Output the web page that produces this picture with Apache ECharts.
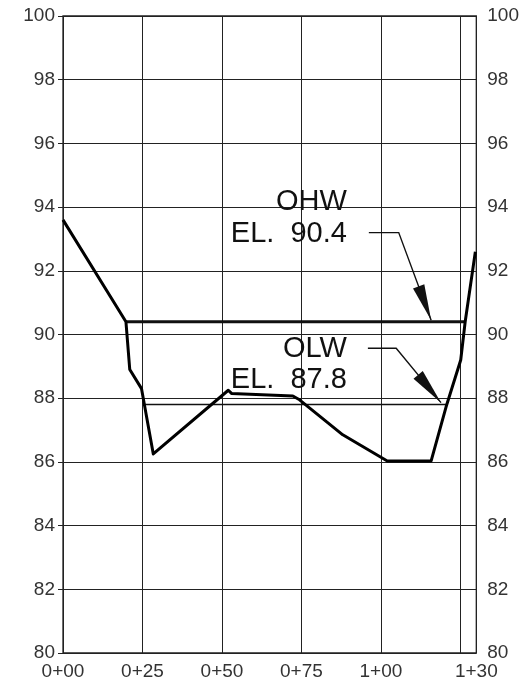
<!DOCTYPE html>
<html>
<head>
<meta charset="utf-8">
<title>Channel cross section</title>
<script src="https://cdn.jsdelivr.net/npm/echarts@6/dist/echarts.min.js"></script>
<style>
  html, body { margin: 0; padding: 0; background: #fff; }
  #chart { width: 522px; height: 683px; }
</style>
</head>
<body>
<div id="chart"></div>
<script>
// ground profile: station (ft) / elevation
var groundSta  = [0, 19.8, 21.0, 24.7, 28.4, 52.0, 53.0, 72.3, 74.4, 88.0, 102.0, 115.8, 120.5, 125.1, 126.5, 129.7];
var groundElev = [93.6, 90.4, 88.9, 88.3, 86.25, 88.25, 88.15, 88.07, 87.95, 86.85, 86.03, 86.03, 87.73, 89.2, 90.4, 92.6];

// water levels
var ohwSta = [19.8, 126.5];
var ohwElev = 90.4;
var olwSta = [25.4, 120.7];
var olwElev = 87.8;

// tick labels
var xTicks = [0, 25, 50, 75, 100, 125, 130];
var xTickLabels = ['0+00', '0+25', '0+50', '0+75', '1+00', '', '1+30'];

// callout texts
var noteText = ['OHW', 'EL.  90.4', 'OLW', 'EL.  87.8'];

function pairs(xs, ys) {
  return xs.map(function (x, i) { return [x, Array.isArray(ys) ? ys[i] : ys]; });
}

var ink = '#111';
var gridCol = '#222';
var labelFont = 'Liberation Sans';

var chart = echarts.init(document.getElementById('chart'));

// callout placement (data space)
var notePos = [[89.3, 94.17], [89.3, 93.15], [89.3, 89.54], [89.3, 88.57]];
var arrowPos = [
  [96.2, 93.2, 105.6, 93.2, 115.8, 90.45],
  [95.9, 89.57, 104.8, 89.57, 118.9, 87.86]
];

var yAxisBase = {
  type: 'value', min: 80, max: 100, interval: 2,
  axisLine: { show: false }
};

var option = {
  animation: false,
  backgroundColor: '#fff',
  grid: { left: 63, right: 45, top: 16, bottom: 30, show: true, borderColor: gridCol, borderWidth: 1.3 },
  xAxis: {
    type: 'value', min: 0, max: 130, interval: 25,
    axisLine: { show: false },
    axisTick: { show: false },
    splitLine: { show: true, lineStyle: { color: gridCol, width: 1 } },
    axisLabel: {
      margin: 9, color: '#333', fontFamily: labelFont, fontSize: 19,
      showMinLabel: true, showMaxLabel: true,
      formatter: function (v) {
        var i = xTicks.indexOf(v);
        return i < 0 ? '' : xTickLabels[i];
      }
    }
  },
  yAxis: [
    Object.assign({}, yAxisBase, {
      position: 'left',
      axisTick: { show: true, length: 5, lineStyle: { color: gridCol } },
      splitLine: { show: true, lineStyle: { color: gridCol, width: 1.2 } },
      axisLabel: { margin: 8, color: '#333', fontFamily: labelFont, fontSize: 19 }
    }),
    Object.assign({}, yAxisBase, {
      position: 'right',
      axisTick: { show: false },
      splitLine: { show: false },
      axisLabel: { margin: 11, color: '#333', fontFamily: labelFont, fontSize: 19 }
    })
  ],
  series: [
    {
      name: 'OLW', type: 'line', data: pairs(olwSta, olwElev),
      symbol: 'none', lineStyle: { color: ink, width: 1.5 }, z: 3
    },
    {
      name: 'OHW', type: 'line', data: pairs(ohwSta, ohwElev),
      symbol: 'none', lineStyle: { color: ink, width: 3 }, z: 4
    },
    {
      name: 'Ground', type: 'line', data: pairs(groundSta, groundElev),
      symbol: 'none', lineStyle: { color: '#000', width: 3, join: 'round' }, z: 5
    },
    {
      // leader arrows
      type: 'custom', coordinateSystem: 'cartesian2d', clip: false, z: 6,
      data: arrowPos, encode: { x: [0, 2, 4], y: [1, 3, 5] },
      renderItem: function (params, api) {
        var a = api.coord([api.value(0), api.value(1)]);
        var b = api.coord([api.value(2), api.value(3)]);
        var c = api.coord([api.value(4), api.value(5)]);
        var dx = c[0] - b[0], dy = c[1] - b[1];
        var len = Math.sqrt(dx * dx + dy * dy);
        var ux = dx / len, uy = dy / len;
        var hl = 36, hw = 6;
        var bx = c[0] - ux * hl, by = c[1] - uy * hl;
        return {
          type: 'group',
          children: [
            { type: 'polyline', shape: { points: [a, b, c] }, style: { stroke: ink, lineWidth: 1.4, fill: null } },
            { type: 'polygon', shape: { points: [c, [bx - uy * hw, by + ux * hw], [bx + uy * hw, by - ux * hw]] }, style: { fill: ink } }
          ]
        };
      }
    },
    {
      // callout texts
      type: 'custom', coordinateSystem: 'cartesian2d', clip: false, z: 7,
      data: notePos, encode: { x: 0, y: 1 },
      renderItem: function (params, api) {
        var p = api.coord([api.value(0), api.value(1)]);
        return {
          type: 'text', x: p[0], y: p[1],
          style: {
            text: noteText[params.dataIndex], align: 'right', verticalAlign: 'middle',
            fill: ink, font: '29px "' + labelFont + '"'
          }
        };
      }
    }
  ]
};

chart.setOption(option);
</script>
</body>
</html>
